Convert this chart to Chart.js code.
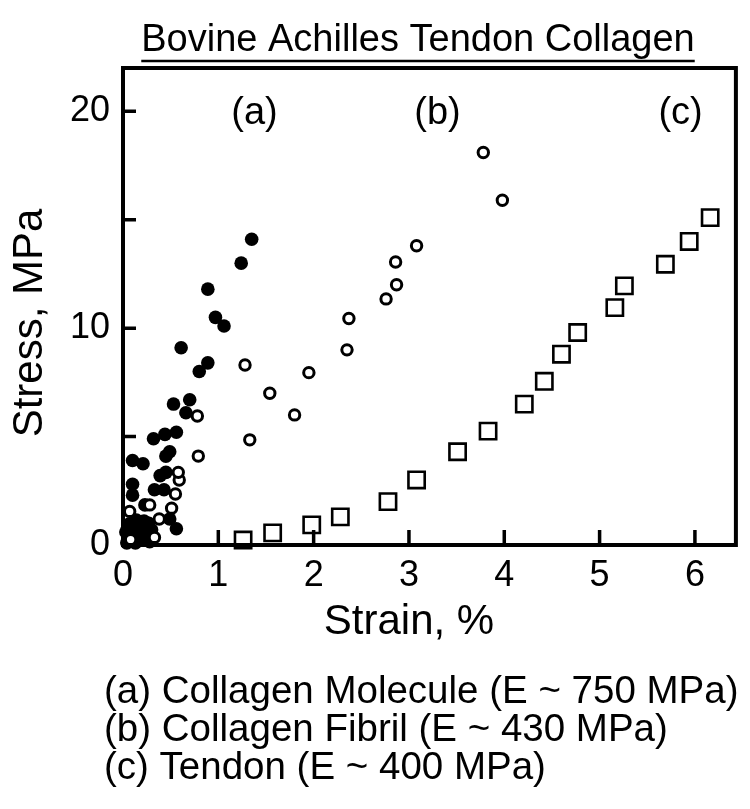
<!DOCTYPE html>
<html>
<head>
<meta charset="utf-8">
<script src="https://cdn.jsdelivr.net/npm/chart.js@4.4.1/dist/chart.umd.min.js"></script>
<style>
html,body{margin:0;padding:0;background:#fff;}
canvas{display:block;}
</style>
</head>
<body>
<canvas id="c" width="750" height="809"></canvas>
<script>
// ---------- text ----------
const chartTitle = 'Bovine Achilles Tendon Collagen';
const xAxisTitle = 'Strain, %';
const yAxisTitle = 'Stress, MPa';
const seriesLabels = ['(a)', '(b)', '(c)'];
const notes = [
  '(a) Collagen Molecule (E ~ 750 MPa)',
  '(b) Collagen Fibril (E ~ 430 MPa)',
  '(c) Tendon (E ~ 400 MPa)'
];
const xTickValues = [0, 1, 2, 3, 4, 5, 6];
const yTickValues = [0, 5, 10, 15, 20];
const yTickLabels = ['0', '10', '20'];

// ---------- data ----------
// (a) Collagen Molecule - filled circles
const moleculeStrain = [1.35,1.24,0.89,0.97,1.06,0.61,0.89,0.80,0.53,0.70,0.66,0.32,0.44,0.56,0.49,0.45,0.10,0.21,0.45,0.39,0.33,0.43,0.10,0.10,0.23,0.49,0.56,0.09,0.18,0.27,0.10,0.20,0.04,0.14,0.03,0.06,0.16,0.25,0.30,0.22,0.13,0.28];
const moleculeStress = [14.1,13.0,11.8,10.5,10.1,9.1,8.4,8.0,6.5,6.7,6.1,4.9,5.1,5.2,4.3,4.1,3.9,3.75,3.35,3.2,2.55,2.55,2.8,2.3,1.85,1.2,0.75,0.7,0.85,1.0,0.3,0.4,0.1,1.15,0.6,0.95,0.55,0.3,0.7,1.1,0.1,0.15];
// (b) Collagen Fibril - open circles
const fibrilStrain = [0.07,0.08,0.28,0.38,0.33,0.51,0.55,0.59,0.58,0.79,0.78,1.28,1.33,1.54,1.80,1.95,2.35,2.37,2.76,2.87,2.86,3.08,3.78,3.98];
const fibrilStress = [1.55,0.25,1.85,1.2,0.35,1.7,2.35,3.0,3.35,4.1,5.95,8.3,4.85,7.0,6.0,7.95,9.0,10.45,11.35,12.0,13.05,13.8,18.1,15.9];
// (c) Tendon - open squares
const tendonStrain = [1.26,1.57,1.98,2.28,2.78,3.08,3.51,3.83,4.21,4.42,4.60,4.77,5.16,5.26,5.69,5.94,6.16];
const tendonStress = [0.23,0.56,0.93,1.3,2.0,3.0,4.3,5.25,6.5,7.55,8.8,9.8,10.95,11.95,12.95,14.0,15.1];

const toPoints = (xs, ys) => xs.map((v, i) => ({x: v, y: ys[i]}));

const FONT = '"Liberation Sans", Arial, Helvetica, sans-serif';

const decorPlugin = {
  id: 'decor',
  afterDatasetsDraw(chart) {
    const {ctx, chartArea: a, scales: {x, y}} = chart;
    ctx.save();
    ctx.strokeStyle = '#000';
    ctx.lineCap = 'butt';
    // frame
    ctx.lineWidth = 4;
    ctx.strokeRect(a.left, a.top, a.right - a.left, a.bottom - a.top);
    // inward ticks
    ctx.lineWidth = 3.5;
    ctx.beginPath();
    x.ticks.forEach(t => {
      if (t.value === 0) return;
      const px = x.getPixelForValue(t.value);
      ctx.moveTo(px, a.bottom);
      ctx.lineTo(px, a.bottom - 15);
    });
    y.ticks.forEach(t => {
      if (t.value === 0) return;
      const py = y.getPixelForValue(t.value);
      ctx.moveTo(a.left, py);
      ctx.lineTo(a.left + 13, py);
    });
    ctx.stroke();
    ctx.restore();
  },
  afterDraw(chart) {
    const {ctx, scales: {x, y}} = chart;
    ctx.save();
    ctx.fillStyle = '#000';
    ctx.strokeStyle = '#000';
    // title + underline
    ctx.font = '38px ' + FONT;
    ctx.textAlign = 'center';
    ctx.textBaseline = 'alphabetic';
    const tx = 418, ty = 51;
    ctx.fillText(chartTitle, tx, ty);
    const w = ctx.measureText(chartTitle).width;
    ctx.lineWidth = 2.5;
    ctx.beginPath();
    ctx.moveTo(tx - w / 2, ty + 10);
    ctx.lineTo(tx + w / 2, ty + 10);
    ctx.stroke();
    // series labels inside plot
    ctx.font = '38px ' + FONT;
    ctx.textBaseline = 'middle';
    const labelX = [1.38, 3.3, 5.85];
    seriesLabels.forEach((s, i) => {
      ctx.fillText(s, x.getPixelForValue(labelX[i]), y.getPixelForValue(19.9));
    });
    // axis titles
    ctx.font = '42px ' + FONT;
    ctx.textBaseline = 'alphabetic';
    ctx.fillText(xAxisTitle, 409, 634);
    ctx.save();
    ctx.translate(42, 323);
    ctx.rotate(-Math.PI / 2);
    ctx.fillText(yAxisTitle, 0, 0);
    ctx.restore();
    // notes
    ctx.font = '38.5px ' + FONT;
    ctx.textAlign = 'left';
    notes.forEach((n, i) => ctx.fillText(n, 104, 703 + i * 38));
    ctx.restore();
  }
};

new Chart(document.getElementById('c'), {
  type: 'scatter',
  data: {
    datasets: [
      {
        label: 'Collagen Fibril',
        data: toPoints(fibrilStrain, fibrilStress),
        pointStyle: 'circle',
        pointRadius: 5.2,
        pointBorderWidth: 3,
        pointBackgroundColor: '#fff',
        pointBorderColor: '#000',
        clip: false
      },
      {
        label: 'Collagen Molecule',
        data: toPoints(moleculeStrain, moleculeStress),
        pointStyle: 'circle',
        pointRadius: 6.8,
        pointBorderWidth: 0,
        pointBackgroundColor: '#000',
        pointBorderColor: '#000',
        clip: false
      },
      {
        label: 'Tendon',
        data: toPoints(tendonStrain, tendonStress),
        pointStyle: 'rect',
        pointRadius: 11.5,
        pointBorderWidth: 2.6,
        pointBackgroundColor: '#fff',
        pointBorderColor: '#000',
        clip: false
      }
    ]
  },
  options: {
    responsive: false,
    animation: false,
    devicePixelRatio: 1,
    layout: {padding: {left: 0, right: 14, top: 68, bottom: 164}},
    plugins: {legend: {display: false}, tooltip: {enabled: false}, title: {display: false}},
    scales: {
      x: {
        type: 'linear',
        min: 0,
        max: 6.43,
        afterBuildTicks: s => { s.ticks = xTickValues.map(v => ({value: v})); },
        afterFit: s => { s.height = 100; },
        ticks: {
          autoSkip: false,
          maxRotation: 0,
          padding: 9,
          color: '#000',
          font: {family: FONT, size: 36},
          callback: v => String(v)
        },
        grid: {display: false, drawTicks: false},
        border: {display: false}
      },
      y: {
        type: 'linear',
        min: 0,
        max: 22,
        afterBuildTicks: s => { s.ticks = yTickValues.map(v => ({value: v})); },
        afterFit: s => { s.width = 123; },
        ticks: {
          autoSkip: false,
          padding: 13,
          color: '#000',
          font: {family: FONT, size: 36},
          callback: v => yTickLabels.includes(String(v)) ? String(v) : ''
        },
        grid: {display: false, drawTicks: false},
        border: {display: false}
      }
    }
  },
  plugins: [decorPlugin]
});
</script>
</body>
</html>
